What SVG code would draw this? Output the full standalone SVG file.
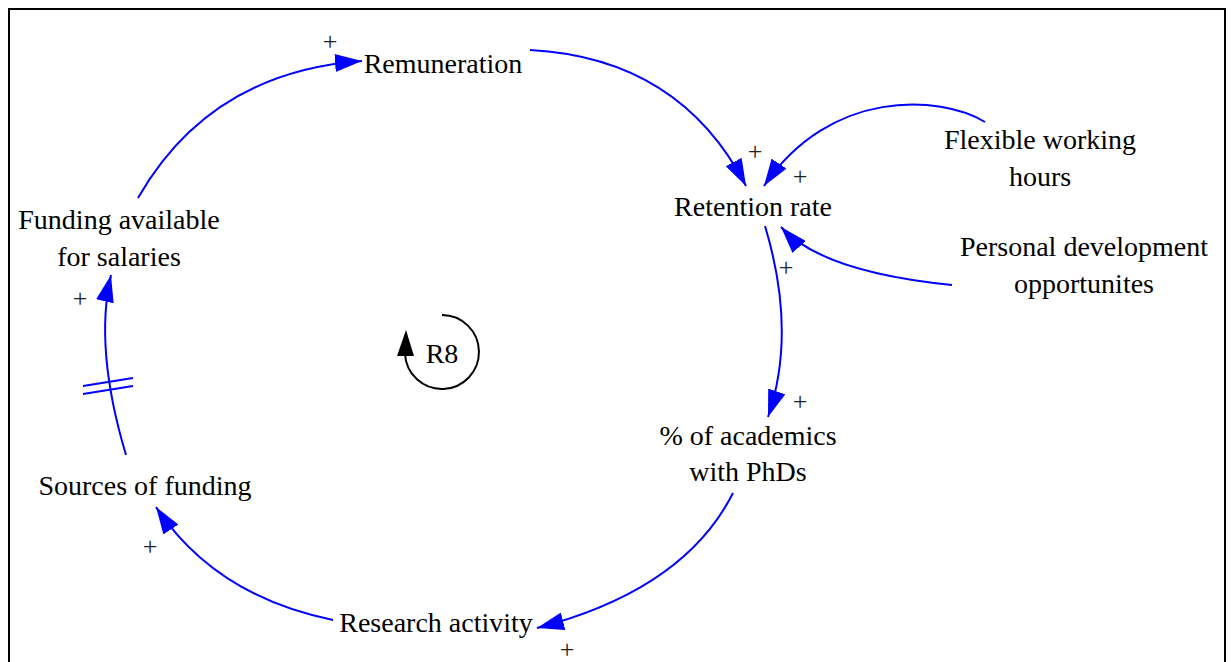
<svg xmlns="http://www.w3.org/2000/svg" width="1232" height="662" viewBox="0 0 1232 662">
<style>
.t{font-family:"Liberation Serif","Times New Roman",serif;font-size:28px;fill:#000;text-anchor:middle}
.p{font-family:"Liberation Serif","Times New Roman",serif;font-size:26px;fill:#222;text-anchor:middle}
.c{fill:none;stroke:#0000ff;stroke-width:2;marker-end:url(#ah)}
</style>
<defs>
<marker id="ah" markerUnits="userSpaceOnUse" markerWidth="28" markerHeight="18" refX="27" refY="9" orient="auto">
<path d="M0,0 L27,9 L0,18 z" fill="#0000ff"/>
</marker>
</defs>
<rect x="9" y="9" width="1216" height="680" fill="#fff" stroke="#000" stroke-width="2"/>
<g id="connectors">
<path class="c" d="M138,198 Q210,72 362,61"/>
<path class="c" d="M530,50 Q680,58 746,186"/>
<path class="c" d="M985,122 C940,95 830,88 764,186"/>
<path class="c" d="M952,285 Q822,272 781,227"/>
<path class="c" d="M765,226 Q797,332 768,417"/>
<path class="c" d="M733,493 Q684,590 537,628"/>
<path class="c" d="M333,620 Q215,596 156,507"/>
<path class="c" d="M126,455 Q94,348 111,275"/>
<path d="M83,386 L133,378 M83,394 L133,386" stroke="#0000ff" stroke-width="2" fill="none"/>
<text class="p" x="330" y="50">+</text>
<text class="p" x="755" y="160">+</text>
<text class="p" x="800" y="185">+</text>
<text class="p" x="786" y="276">+</text>
<text class="p" x="800" y="410">+</text>
<text class="p" x="567" y="658">+</text>
<text class="p" x="150" y="555">+</text>
<text class="p" x="80" y="307">+</text>
</g>
<g id="loop-R8">
<path d="M442,315 A37,37 0 1 1 405,354 L405,345" fill="none" stroke="#000" stroke-width="2"/>
<path d="M397,356 L406,330 L414,356 z" fill="#000"/>
<text class="t" x="442" y="363">R8</text>
</g>
<g id="remuneration"><text class="t" x="443" y="73">Remuneration</text></g>
<g id="retention-rate"><text class="t" x="753" y="216">Retention rate</text></g>
<g id="flexible-working-hours"><text class="t" x="1040" y="149">Flexible working</text><text class="t" x="1040" y="186">hours</text></g>
<g id="personal-development"><text class="t" x="1084" y="256">Personal development</text><text class="t" x="1084" y="293">opportunites</text></g>
<g id="academics-phd"><text class="t" x="748" y="445">% of academics</text><text class="t" x="748" y="481">with PhDs</text></g>
<g id="research-activity"><text class="t" x="436" y="632">Research activity</text></g>
<g id="sources-of-funding"><text class="t" x="145" y="495">Sources of funding</text></g>
<g id="funding-salaries"><text class="t" x="119" y="229">Funding available</text><text class="t" x="119" y="266">for salaries</text></g>
</svg>
